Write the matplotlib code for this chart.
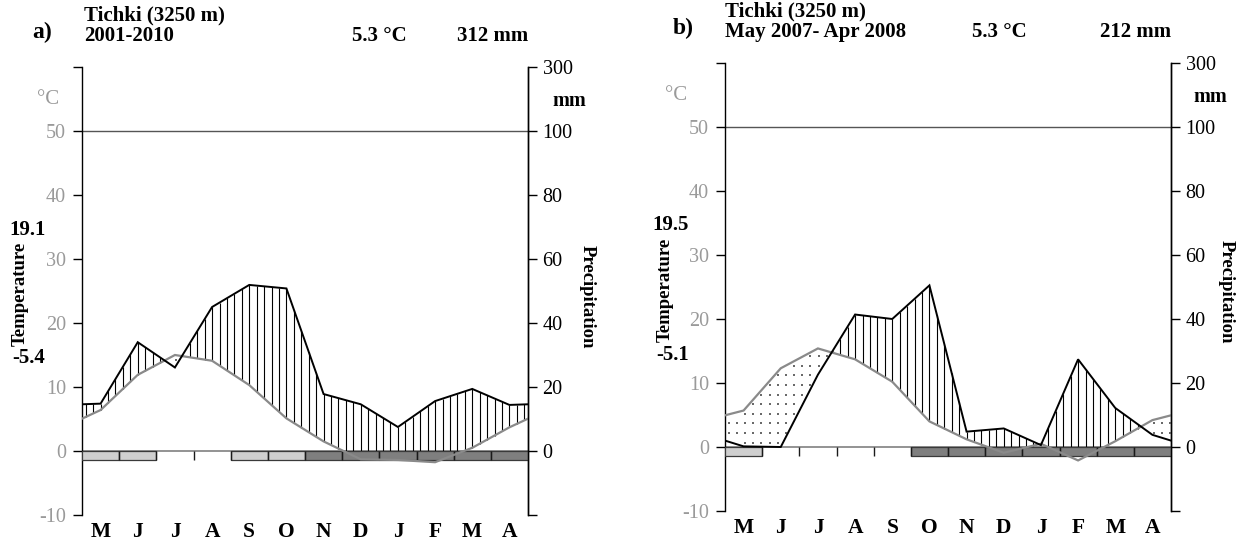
import numpy as np
import matplotlib
matplotlib.use('Agg')
import matplotlib.pyplot as plt
from matplotlib.patches import Rectangle

# ---------------- data ----------------
months = ['M', 'J', 'J', 'A', 'S', 'O', 'N', 'D', 'J', 'F', 'M', 'A']

a_temp = [6.4, 11.9, 15.0, 14.1, 10.3, 5.1, 1.5, -1.3, -1.4, -1.75, 0.5, 3.7]      # °C
a_prec = [14.8, 34.0, 26.1, 45.0, 51.9, 50.8, 17.8, 14.6, 7.5, 15.6, 19.4, 14.4]   # mm
a_frost = [1, 1, 0, 0, 1, 1, 2, 2, 2, 2, 2, 2]   # 0 none, 1 probable, 2 sure frost

b_temp = [5.7, 12.3, 15.4, 13.7, 10.2, 4.0, 1.2, -0.9, 0.5, -2.1, 0.9, 4.2]
b_prec = [0.2, 0.0, 22.6, 41.4, 40.0, 50.5, 4.8, 5.8, 0.6, 27.4, 12.2, 3.8]
b_frost = [1, 0, 0, 0, 0, 2, 2, 2, 2, 2, 2, 2]

a_head = ['a)', 'Tichki (3250 m)', '2001-2010', '5.3 °C', '312 mm', '19.1', '-5.4']
b_head = ['b)', 'Tichki (3250 m)', 'May 2007- Apr 2008', '5.3 °C', '212 mm', '19.5', '-5.1']

temp_ticks = [-10, 0, 10, 20, 30, 40, 50]
prec_ticks = [0, 20, 40, 60, 80, 100, 300]

# ---------------- style ----------------
plt.rcParams['font.family'] = ['Liberation Serif', 'DejaVu Serif']
W, H = 1242, 545
fig = plt.figure(figsize=(W / 100, H / 100), dpi=100)

GRAY_T = '#8a8a8a'
LIGHT = '#cfcfcf'
DARK = '#7f7f7f'
HEAD_FS = 15


def mm_to_t(p):
    p = np.asarray(p, dtype=float)
    return np.where(p <= 100, p / 2.0, 50 + (p - 100) / 20.0)


def px(x, y):
    return x / W, 1 - y / H


def panel(box, temp, prec, frost, head, hpos):
    l, r, t, b = box
    ax = fig.add_axes([l / W, 1 - b / H, (r - l) / W, (b - t) / H])
    ax.set_xlim(0, 12)
    ax.set_ylim(-10, 60)
    for s in ['top', 'bottom']:
        ax.spines[s].set_visible(False)
    for s in ['left', 'right']:
        ax.spines[s].set_linewidth(1.0)

    # left axis ticks (temperature)
    ax.set_yticks(temp_ticks + [60])
    ax.set_yticklabels([str(v) for v in temp_ticks] + [''])
    ax.tick_params(axis='y', direction='out', length=6.5, width=1.0, pad=5,
                   labelsize=14.5, colors='black')
    for lab in ax.get_yticklabels():
        lab.set_color('#9a9a9a')
    # month labels
    centers = np.arange(12) + 0.5
    ax.set_xticks(centers)
    ax.set_xticklabels(months, fontsize=15.5, fontweight='bold')
    ax.tick_params(axis='x', length=0, pad=5)

    # right axis (precipitation)
    ax2 = ax.twinx()
    ax2.set_ylim(-10, 60)
    ax2.set_yticks(list(mm_to_t(prec_ticks)) + [-10])
    ax2.set_yticklabels([str(v) for v in prec_ticks] + [''])
    ax2.tick_params(axis='y', direction='out', length=6.5, width=1.0, pad=4,
                    labelsize=14.5, colors='black')
    for s in ['top', 'bottom', 'left']:
        ax2.spines[s].set_visible(False)
    ax2.spines['right'].set_linewidth(1.0)

    # reference lines
    ax.axhline(0, color='#8a8a8a', lw=1.3, zorder=2)
    ax.axhline(50, color='#555555', lw=1.0, zorder=2)

    # curves extended to axis edges
    t = np.asarray(temp, float)
    p = mm_to_t(prec)
    xl = np.concatenate([[0], centers, [12]])
    tl = np.concatenate([[(t[0] + t[-1]) / 2], t, [(t[0] + t[-1]) / 2]])
    pl = np.concatenate([[(p[0] + p[-1]) / 2], p, [(p[0] + p[-1]) / 2]])

    # humid hatching (vertical lines)
    xs = np.arange(0.1, 12, 0.2)
    pi = np.interp(xs, xl, pl)
    ti = np.interp(xs, xl, tl)
    lo = np.maximum(ti, 0)
    m = pi > lo
    ax.vlines(xs[m], lo[m], pi[m], color='black', lw=0.8, zorder=3)

    # arid dotting
    xd = np.arange(0.1, 12, 0.22)
    yd = np.arange(0.7, 60, 1.5)
    XX, YY = np.meshgrid(xd, yd)
    pd_ = np.interp(XX, xl, pl)
    td_ = np.interp(XX, xl, tl)
    md = (YY > pd_ + 0.3) & (YY < td_ - 0.3)
    ax.scatter(XX[md], YY[md], s=2.5, marker='s', color='#6a6a6a', lw=0, zorder=3)

    # frost bars
    bh = 1.45
    for i, f in enumerate(frost):
        if f > 0:
            ax.add_patch(Rectangle((i, -bh), 1, bh, facecolor=LIGHT if f == 1 else DARK,
                                   edgecolor='#3a3a3a', lw=0.9, zorder=4))
    ax.vlines(np.arange(1, 12), -bh, 0, color='#1a1a1a', lw=1.0, zorder=5)

    ax.plot(xl, tl, color=GRAY_T, lw=1.6, zorder=6, solid_joinstyle='miter')
    ax.plot(xl, pl, color='black', lw=1.4, zorder=7, solid_joinstyle='miter')

    # texts
    (xa, ya), (xs1, ys1), (xs2, ys2), (xm, ym), (xt, yt), (xmx, ymx), (xmn, ymn), \
        (xc, yc), (xmm, ymmp), (xtl, ytl), (xpl, ypl) = hpos
    fig.text(*px(xa, ya), head[0], fontsize=17, fontweight='bold', ha='left', va='center')
    fig.text(*px(xs1, ys1), head[1], fontsize=HEAD_FS, fontweight='bold', ha='left', va='center')
    fig.text(*px(xs2, ys2), head[2], fontsize=HEAD_FS, fontweight='bold', ha='left', va='center')
    fig.text(*px(xm, ym), head[3], fontsize=HEAD_FS, fontweight='bold', ha='left', va='center')
    fig.text(*px(xt, yt), head[4], fontsize=HEAD_FS, fontweight='bold', ha='right', va='center')
    fig.text(*px(xmx, ymx), head[5], fontsize=15, fontweight='bold', ha='center', va='center')
    fig.text(*px(xmn, ymn), head[6], fontsize=15, fontweight='bold', ha='center', va='center')
    fig.text(*px(xc, yc), '°C', fontsize=15, color='#9a9a9a', ha='center', va='center')
    fig.text(*px(xmm, ymmp), 'mm', fontsize=14.5, fontweight='bold', ha='center', va='center')
    fig.text(*px(xtl, ytl), 'Temperature', fontsize=13.5, fontweight='bold', rotation=90,
             ha='center', va='center')
    fig.text(*px(xpl, ypl), 'Precipitation', fontsize=13.5, fontweight='bold', rotation=270,
             ha='center', va='center')


panel((82, 528, 67, 515), a_temp, a_prec, a_frost, a_head,
      [(32, 32), (84, 15), (84, 36), (352, 36), (528, 36), (28, 230), (29, 358),
       (48, 100), (569, 101), (20, 294), (587, 297)])
panel((725, 1171, 63, 511), b_temp, b_prec, b_frost, b_head,
      [(673, 28), (725, 11), (725, 32), (972, 32), (1171, 32), (671, 225), (673, 355),
       (676, 96), (1210, 97), (665, 290), (1226, 292)])

fig.savefig('out.png', dpi=100)
